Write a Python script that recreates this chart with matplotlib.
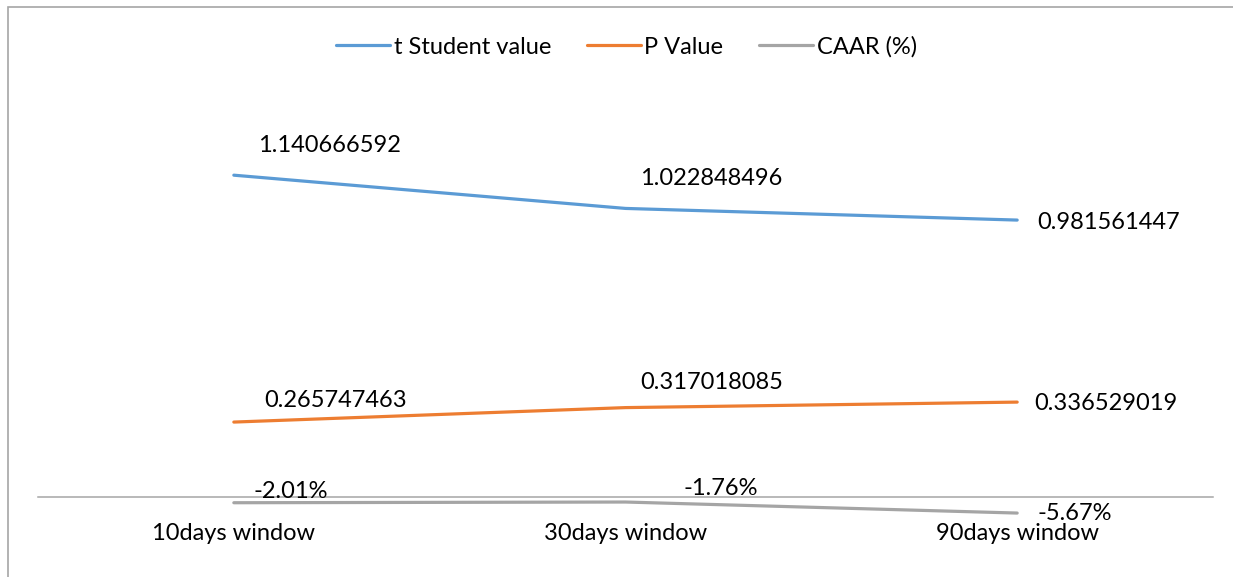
import matplotlib.pyplot as plt
from matplotlib.patches import Rectangle

# chart data
categories = ["10days window", "30days window", "90days window"]
t_student = [1.140666592, 1.022848496, 0.981561447]
p_value = [0.265747463, 0.317018085, 0.336529019]
caar = [-0.0201, -0.0176, -0.0567]

plt.rcParams['font.family'] = ['Lato', 'DejaVu Sans']
FS = 17

fig = plt.figure(figsize=(12.33, 5.77), dpi=100)
W, H = 1233, 577
ax = fig.add_axes([38 / W, 1 - 553.5 / H, (1213 - 38) / W, (553.5 - 102) / H])

x = list(range(len(categories)))
series = [
    ("t Student value", t_student, "#5B9BD5", lambda v: f"{v:.9f}",
     [(24, 30), (15, 30), (20, -2)]),
    ("P Value", p_value, "#ED7D31", lambda v: f"{v:.9f}",
     [(30, 22), (15, 25), (17, -1)]),
    ("CAAR (%)", caar, "#A5A5A5", lambda v: f"{v * 100:.2f}%",
     [(20, 11), (58, 14), (20, 0)]),
]

for name, vals, col, fmt, offs in series:
    ax.plot(x, vals, color=col, lw=2.3, label=name, solid_capstyle='round')
    for xi, v, (dx, dy) in zip(x, vals, offs):
        ax.annotate(fmt(v), (xi, v), xytext=(dx, dy), textcoords='offset pixels',
                    ha='left', va='center', fontsize=FS, color='black')

ax.set_xlim(-0.5, 2.5)
ax.set_ylim(-0.2, 1.4)
for s in ['top', 'right', 'left']:
    ax.spines[s].set_visible(False)
ax.spines['bottom'].set_position(('data', 0))
ax.spines['bottom'].set_color('#A6A6A6')
ax.spines['bottom'].set_linewidth(1.1)
ax.set_yticks([])
ax.set_xticks(x)
ax.set_xticklabels(categories, fontsize=FS)
ax.tick_params(axis='x', length=0, pad=19)
ax.patch.set_visible(False)

fig.legend(loc='center', bbox_to_anchor=(0.508, 1 - 47 / H), ncol=3,
           frameon=False, fontsize=FS, handlelength=2.3, handletextpad=0.15,
           columnspacing=1.5)

# outer chart border (cropped at right and bottom)
fig.patches.append(Rectangle((8 / W, -0.1), 1.2, 1.1 - 7 / H, transform=fig.transFigure,
                             fill=False, edgecolor='#A6A6A6', lw=1.2, clip_on=False))

fig.savefig("out.png", dpi=100)
